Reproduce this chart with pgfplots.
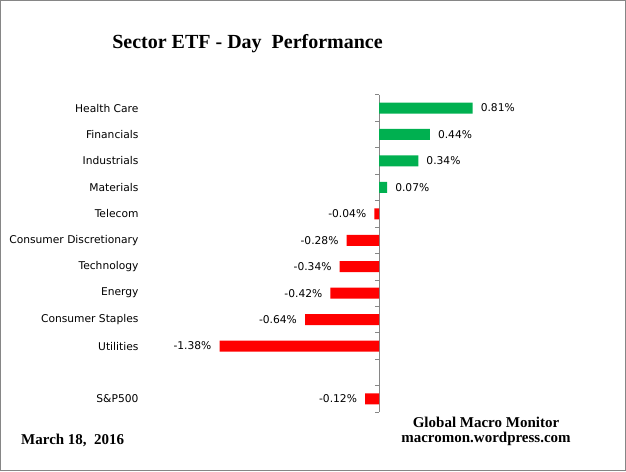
\documentclass[border=0pt]{standalone}
\usepackage{pgfplots}
\pgfplotsset{compat=1.18}
\usepackage{fontspec}
\setmainfont{DejaVu Sans}
\newfontfamily\tnr{Liberation Serif}
\definecolor{posgreen}{RGB}{0,176,80}
\definecolor{axgray}{RGB}{134,134,134}
\begin{document}
\begin{tikzpicture}[x=1pt,y=1pt]
  \useasboundingbox (0,0) rectangle (626,471);
  \draw[axgray, line width=1pt] (0.5,0.5) rectangle (625.5,470.5);
  \begin{axis}[
      at={(217.3pt,58.8pt)}, anchor=south west,
      scale only axis,
      width=265.65pt, height=317.4pt,
      xmin=-1.4, xmax=0.9,
      ymin=-0.5, ymax=11.5,
      y dir=reverse,
      axis x line=none,
      axis y line=middle,
      y axis line style={-, axgray, line width=0.8pt},
      ytick={0,1,2,3,4,5,6,7,8,9,11},
      yticklabels={Health Care, Financials, Industrials, Materials, Telecom,
        Consumer Discretionary, Technology, Energy, Consumer Staples,
        Utilities, S\&P500},
      minor ytick={-0.5,0.5,...,11.5},
      major tick length=0pt,
      minor tick length=4pt,
      minor y tick style={axgray, line width=0.8pt, xshift=-2pt},
      yticklabel style={anchor=east, xshift=-237pt, font=\fontsize{10.7}{12}\selectfont},
      clip=false,
      nodes near coords style={font=\fontsize{10.7}{12}\selectfont, inner sep=0pt},
    ]
    % gains
    \addplot[xbar, bar shift=0pt, bar width=11pt, fill=posgreen, draw=none,
      point meta=explicit symbolic, nodes near coords,
      every node near coord/.append style={anchor=west, xshift=8pt}]
      coordinates {
        (0.81,0) [0.81\%]
        (0.44,1) [0.44\%]
        (0.34,2) [0.34\%]
        (0.07,3) [0.07\%]
      };
    % losses
    \addplot[xbar, bar shift=0pt, bar width=11pt, fill=red, draw=none,
      point meta=explicit symbolic, nodes near coords,
      every node near coord/.append style={anchor=east, xshift=-8pt}]
      coordinates {
        (-0.04,4) [-0.04\%]
        (-0.28,5) [-0.28\%]
        (-0.34,6) [-0.34\%]
        (-0.42,7) [-0.42\%]
        (-0.64,8) [-0.64\%]
        (-1.38,9) [-1.38\%]
        (-0.12,11) [-0.12\%]
      };
  \end{axis}
  \node[font=\tnr\bfseries\fontsize{20}{24}\selectfont] at (247.5,427) {Sector ETF - Day\ \ Performance};
  \node[font=\tnr\bfseries\fontsize{15}{17}\selectfont] at (486,49) {Global Macro Monitor};
  \node[font=\tnr\bfseries\fontsize{15}{17}\selectfont] at (486,32) {macromon.wordpress.com};
  \node[anchor=west, inner sep=0pt, font=\tnr\bfseries\fontsize{15}{17}\selectfont] at (21,31) {March 18,\ \ 2016};
\end{tikzpicture}
\end{document}
